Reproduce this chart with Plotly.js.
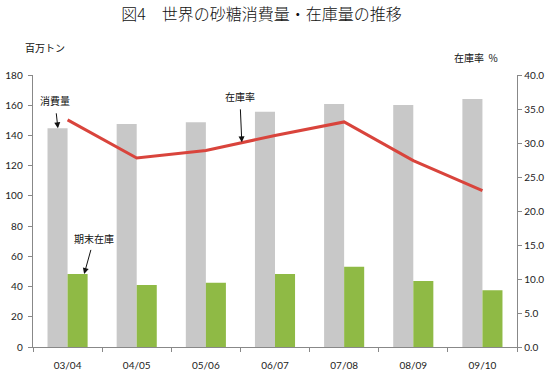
<!DOCTYPE html>
<html>
<head>
<meta charset="utf-8">
<script src="https://cdn.plot.ly/plotly-3.0.1.min.js"></script>
<style>html,body{margin:0;padding:0;background:#fff;}#chart{width:554px;height:375px;}</style>
</head>
<body>
<div id="chart"></div>
<script>
const categories = ["03/04", "04/05", "05/06", "06/07", "07/08", "08/09", "09/10"];
const consumption = [144.7, 147.6, 148.7, 155.7, 160.8, 160.2, 164.1];
const endingStocks = [48.3, 41.0, 42.6, 48.3, 53.1, 43.7, 37.5];
const stockRatio = [33.4, 27.8, 28.9, 31.1, 33.1, 27.4, 23.0];
const leftTicks = [0, 20, 40, 60, 80, 100, 120, 140, 160, 180];
const rightTicks = [0, 5, 10, 15, 20, 25, 30, 35, 40];

const tickFont = {family: "Lato, 'Liberation Sans', sans-serif", size: 10, color: "#222"};
const jpFont = {family: "'Noto Sans CJK JP', sans-serif", size: 10, color: "#111"};

const traces = [
  {type: "bar", x: categories, y: consumption, yaxis: "y", marker: {color: "#C8C8C8"}, hoverinfo: "skip"},
  {type: "bar", x: categories, y: endingStocks, yaxis: "y", marker: {color: "#8FBA45"}, hoverinfo: "skip"},
  {type: "scatter", mode: "lines", x: categories, y: stockRatio, yaxis: "y2", line: {color: "#D9443C", width: 3}, hoverinfo: "skip"}
];

const layout = {
  width: 554, height: 375,
  margin: {l: 33, r: 37, t: 75, b: 28},
  paper_bgcolor: "#fff", plot_bgcolor: "#fff",
  showlegend: false,
  barmode: "group", bargap: 0.42, bargroupgap: 0,
  xaxis: {
    type: "category", tickson: "boundaries", ticks: "outside", ticklen: 4, tickcolor: "#888",
    showline: true, linecolor: "#888", linewidth: 1.3, showgrid: false, zeroline: false,
    tickfont: tickFont, range: [-0.5, 6.5], ticklabelstandoff: 9
  },
  yaxis: {
    range: [0, 180], tickvals: leftTicks, ticks: "outside", ticklen: 4, tickcolor: "#888",
    showline: true, linecolor: "#888", linewidth: 1.3, showgrid: false, zeroline: false,
    tickfont: tickFont, ticklabelstandoff: 3
  },
  yaxis2: {
    overlaying: "y", side: "right", range: [0, 40], tickvals: rightTicks, tickformat: ".1f",
    ticks: "outside", ticklen: 4, tickcolor: "#888",
    showline: true, linecolor: "#888", linewidth: 1.3, showgrid: false, zeroline: false,
    tickfont: tickFont
  },
  title: {
    text: "図4　世界の砂糖消費量・在庫量の推移",
    font: {family: "'Noto Sans CJK JP', sans-serif", size: 16, color: "#111", weight: 300},
    x: 0.472, xref: "paper", xanchor: "center", y: 0.962, yref: "container", yanchor: "middle"
  },
  annotations: [
    {text: "百万トン", xref: "paper", yref: "paper", x: -0.02, y: 1.10, xanchor: "left", yanchor: "middle", showarrow: false, font: jpFont},
    {text: "在庫率  %", xref: "paper", yref: "paper", x: 0.915, y: 1.065, xanchor: "center", yanchor: "middle", showarrow: false, font: jpFont},
    {text: "消費量", xref: "x", yref: "y", x: -0.14, y: consumption[0], ax: -3, ay: -28,
     showarrow: true, arrowhead: 2, arrowsize: 1.2, arrowwidth: 1, arrowcolor: "#111", startstandoff: 4, font: jpFont},
    {text: "在庫率", xref: "x", yref: "y2", x: 2.52, y: 30.1, ax: -2, ay: -46,
     showarrow: true, arrowhead: 2, arrowsize: 1.2, arrowwidth: 1, arrowcolor: "#111", startstandoff: 4, font: jpFont},
    {text: "期末在庫", xref: "x", yref: "y", x: 0.24, y: endingStocks[0], ax: 10, ay: -36,
     showarrow: true, arrowhead: 2, arrowsize: 1.2, arrowwidth: 1, arrowcolor: "#111", startstandoff: 3, font: jpFont}
  ]
};

Plotly.newPlot("chart", traces, layout, {staticPlot: true, displayModeBar: false});
</script>
</body>
</html>
